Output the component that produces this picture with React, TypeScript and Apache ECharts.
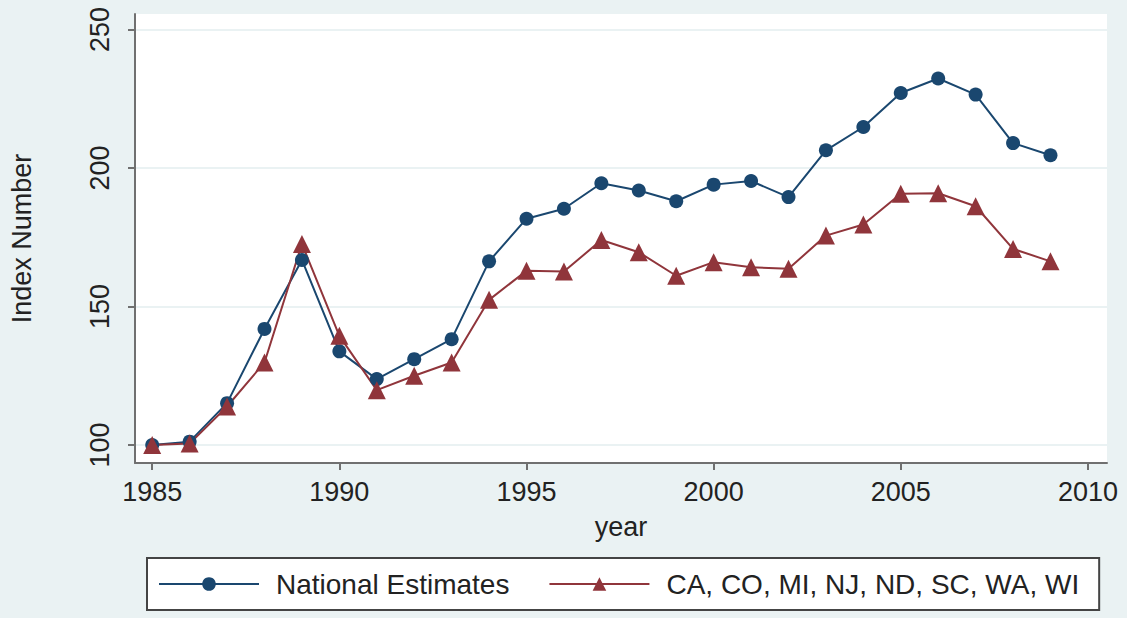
import React, { useEffect, useRef } from "react";
import * as echarts from "echarts";

const years = [1985, 1986, 1987, 1988, 1989, 1990, 1991, 1992, 1993, 1994, 1995, 1996, 1997, 1998, 1999, 2000, 2001, 2002, 2003, 2004, 2005, 2006, 2007, 2008, 2009];
const national = [100, 101.2, 115.1, 141.9, 166.8, 133.8, 123.8, 131.0, 138.2, 166.3, 181.7, 185.3, 194.5, 191.9, 188.0, 194.0, 195.3, 189.5, 206.4, 214.8, 227.1, 232.3, 226.5, 209.0, 204.6];
const states = [100, 100.5, 113.9, 129.8, 172.6, 139.4, 119.8, 125.0, 129.8, 152.4, 162.9, 162.6, 174.0, 169.6, 161.1, 166.0, 164.2, 163.6, 175.6, 179.6, 190.7, 190.9, 186.2, 170.8, 166.3];
const yTicks = [100, 150, 200, 250];
const xTicks = [1985, 1990, 1995, 2000, 2005, 2010];
const seriesNames = ["National Estimates", "CA, CO, MI, NJ, ND, SC, WA, WI"];

const FONT = "Liberation Sans, Arial, Helvetica, sans-serif";
const NAVY = "#1A476F";
const MAROON = "#90353B";
const AXIS = "#707070";

export default function App() {
  const ref = useRef<HTMLDivElement>(null);
  useEffect(() => {
    if (!ref.current) return;
    const chart = echarts.init(ref.current, null, { renderer: "svg" });
    chart.setOption({
      animation: false,
      backgroundColor: "#EAF2F3",
      textStyle: { fontFamily: FONT },
      grid: {
        left: 135,
        right: 20,
        top: 14,
        bottom: 155,
        show: true,
        backgroundColor: "#ffffff",
        borderWidth: 0,
        outerBoundsMode: "none",
        containLabel: false,
      },
      xAxis: {
        type: "value",
        min: 1984.54,
        max: 2010.51,
        name: "year",
        nameLocation: "middle",
        nameGap: 50,
        nameTextStyle: { fontSize: 27, color: "#222", fontFamily: FONT },
        axisLine: { show: true, lineStyle: { color: AXIS, width: 2 } },
        axisTick: { show: true, length: 7, customValues: xTicks, lineStyle: { color: AXIS, width: 2 } },
        axisLabel: { customValues: xTicks, fontSize: 27, color: "#222", margin: 15, fontFamily: FONT, formatter: (v: number) => String(v) },
        splitLine: { show: false },
      },
      yAxis: {
        type: "value",
        min: 93.5,
        max: 255.6,
        name: "Index Number",
        nameLocation: "middle",
        nameGap: 100,
        nameRotate: 90,
        nameTextStyle: { fontSize: 27, color: "#222", fontFamily: FONT },
        axisLine: { show: true, lineStyle: { color: AXIS, width: 2 } },
        axisTick: { show: true, length: 7, customValues: yTicks, lineStyle: { color: AXIS, width: 2 } },
        axisLabel: { customValues: yTicks, rotate: 90, fontSize: 27, color: "#222", margin: 22, fontFamily: FONT },
        splitLine: { show: true, lineStyle: { color: "#EAF2F3", width: 2 } },
      },
      legend: {
        left: 147,
        top: 558,
        orient: "horizontal",
        backgroundColor: "#ffffff",
        borderColor: "#444",
        borderWidth: 2,
        borderRadius: 0,
        padding: [12, 20, 12, 11],
        itemWidth: 100,
        itemHeight: 17,
        itemGap: 39,
        textStyle: { fontSize: 28, color: "#222", fontFamily: FONT, padding: [0, 0, 0, 12] },
        data: seriesNames,
      },
      series: [
        {
          name: seriesNames[0],
          type: "line",
          data: years.map((y, i) => [y, national[i]]),
          symbol: "circle",
          symbolSize: 14,
          lineStyle: { color: NAVY, width: 2 },
          itemStyle: { color: NAVY },
        },
        {
          name: seriesNames[1],
          type: "line",
          data: years.map((y, i) => [y, states[i]]),
          symbol: "triangle",
          symbolSize: 18,
          lineStyle: { color: MAROON, width: 2 },
          itemStyle: { color: MAROON },
        },
      ],
    });
    return () => chart.dispose();
  }, []);
  return <div ref={ref} style={{ width: 1127, height: 618, position: "absolute", left: 0, top: 0 }} />;
}
